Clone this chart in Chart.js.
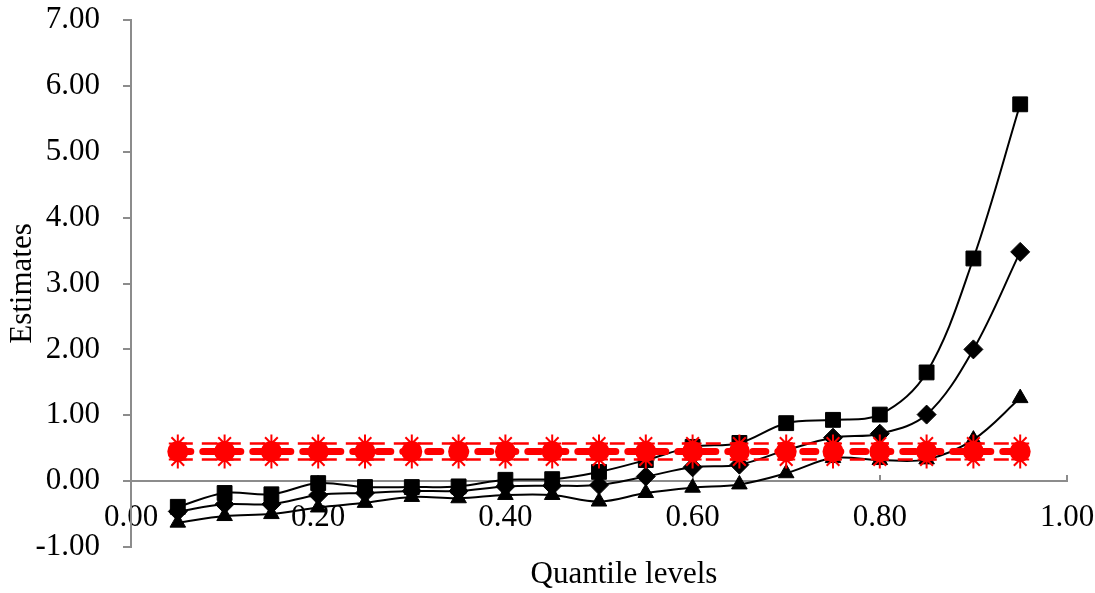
<!DOCTYPE html>
<html>
<head>
<meta charset="utf-8">
<script src="https://cdn.jsdelivr.net/npm/chart.js@4.4.1/dist/chart.umd.min.js"></script>
<style>
  html, body { margin: 0; padding: 0; background: #fff; }
  #wrap { width: 1095px; height: 593px; position: relative; }
</style>
</head>
<body>
<div id="wrap"><canvas id="chart"></canvas></div>
<script>
// quantile levels on the x axis
const quantiles = [0.05, 0.10, 0.15, 0.20, 0.25, 0.30, 0.35, 0.40, 0.45, 0.50,
                   0.55, 0.60, 0.65, 0.70, 0.75, 0.80, 0.85, 0.90, 0.95];

// black series
const squareVals = [-0.39, -0.18, -0.20, -0.03, -0.09, -0.09, -0.08, 0.02, 0.03, 0.14,
                    0.32, 0.52, 0.58, 0.88, 0.93, 1.01, 1.65, 3.38, 5.72];
const diamondVals = [-0.46, -0.35, -0.35, -0.21, -0.18, -0.15, -0.15, -0.08, -0.07, -0.06,
                     0.07, 0.21, 0.25, 0.47, 0.66, 0.72, 1.01, 2.00, 3.48];
const triangleVals = [-0.63, -0.53, -0.50, -0.40, -0.33, -0.24, -0.26, -0.21, -0.21, -0.31,
                      -0.18, -0.10, -0.05, 0.12, 0.35, 0.32, 0.33, 0.63, 1.26];

// red reference lines
const upperVals = [0.57, 0.57, 0.57, 0.57, 0.57, 0.57, 0.57, 0.57, 0.57, 0.57,
                   0.57, 0.57, 0.57, 0.57, 0.57, 0.57, 0.57, 0.57, 0.57];
const middleVals = [0.45, 0.45, 0.45, 0.45, 0.45, 0.45, 0.45, 0.45, 0.45, 0.45,
                    0.45, 0.45, 0.45, 0.45, 0.45, 0.45, 0.45, 0.45, 0.45];
const lowerVals = [0.33, 0.33, 0.33, 0.33, 0.33, 0.33, 0.33, 0.33, 0.33, 0.33,
                   0.33, 0.33, 0.33, 0.33, 0.33, 0.33, 0.33, 0.33, 0.33];

// axis ticks
const xTicks = [0.00, 0.20, 0.40, 0.60, 0.80, 1.00];
const yTicks = [-1, 0, 1, 2, 3, 4, 5, 6, 7];

function pts(vals) {
    return vals.map((v, i) => ({ x: quantiles[i], y: v }));
}

const FONT = 'Liberation Serif, "Times New Roman", serif';
const GRAY = '#8c8c8c';

const blackLine = (vals, style, r) => ({
    data: pts(vals),
    borderColor: '#000',
    backgroundColor: '#000',
    borderWidth: 2,
    tension: 0.35,
    pointStyle: style,
    pointRadius: r,
    pointBorderWidth: 1,
    pointBackgroundColor: '#000',
    pointBorderColor: '#000',
    order: 2
});

const starLine = (vals) => ({
    data: pts(vals),
    borderColor: '#ff0000',
    borderWidth: 2.5,
    borderDash: [15, 9],
    tension: 0,
    pointStyle: 'star',
    pointRadius: 9,
    pointBorderWidth: 2,
    pointBorderColor: '#ff0000',
    pointBackgroundColor: '#ff0000',
    order: 1
});

// the x title sits a bit right of the plot centre in the original
const shiftTitle = {
    id: 'shiftTitle',
    afterLayout(chart) {
        const s = chart.scales.x2;
        s.left += 50;
    }
};

new Chart(document.getElementById('chart').getContext('2d'), {
    type: 'line',
    data: {
        datasets: [
            starLine(upperVals),
            {
                data: pts(middleVals),
                borderColor: '#ff0000',
                borderWidth: 7,
                borderDash: [13, 12],
                borderCapStyle: 'round',
                tension: 0,
                pointStyle: 'circle',
                pointRadius: 7,
                pointBackgroundColor: '#ff0000',
                pointBorderColor: '#ff0000',
                order: 0
            },
            starLine(lowerVals),
            blackLine(squareVals, 'rect', 10.5),
            blackLine(diamondVals, 'rectRot', 9.5),
            blackLine(triangleVals, 'triangle', 9)
        ]
    },
    plugins: [shiftTitle],
    options: {
        responsive: true,
        maintainAspectRatio: false,
        animation: false,
        layout: { padding: { left: 4, right: 28, top: 20, bottom: 0 } },
        plugins: { legend: { display: false }, tooltip: { enabled: false } },
        scales: {
            x: {
                type: 'linear',
                position: { y: 0 },
                min: 0,
                max: 1,
                afterBuildTicks: (s) => { s.ticks = xTicks.map(v => ({ value: v })); },
                afterFit: (s) => { s.paddingLeft = 0; s.paddingRight = 0; },
                ticks: {
                    padding: 25,
                    color: '#000',
                    font: { family: FONT, size: 31 },
                    maxRotation: 0,
                    callback: (v) => Number(v).toFixed(2)
                },
                grid: { drawOnChartArea: false, drawTicks: true, tickLength: -7, color: GRAY, lineWidth: 2 },
                border: { color: GRAY, width: 2 }
            },
            x2: {
                type: 'linear',
                position: 'bottom',
                min: 0,
                max: 1,
                ticks: { display: false },
                grid: { display: false },
                border: { display: false },
                title: {
                    display: true,
                    text: 'Quantile levels',
                    color: '#000',
                    font: { family: FONT, size: 31 },
                    padding: 0
                },
                afterFit: (s) => { s.height = 46; s.paddingLeft = 0; s.paddingRight = 0; }
            },
            y: {
                type: 'linear',
                position: 'left',
                min: -1,
                max: 7,
                afterBuildTicks: (s) => { s.ticks = yTicks.map(v => ({ value: v })); },
                ticks: {
                    padding: 23,
                    color: '#000',
                    font: { family: FONT, size: 31 },
                    callback: (v) => Number(v).toFixed(2)
                },
                grid: { drawOnChartArea: false, drawTicks: true, tickLength: 8, color: GRAY, lineWidth: 2 },
                border: { color: GRAY, width: 2 },
                title: {
                    display: true,
                    text: 'Estimates',
                    color: '#000',
                    font: { family: FONT, size: 31 },
                    padding: 0
                },
                afterFit: (s) => { s.width = 127; s.paddingTop = 0; s.paddingBottom = 0; }
            }
        }
    }
});
</script>
</body>
</html>
